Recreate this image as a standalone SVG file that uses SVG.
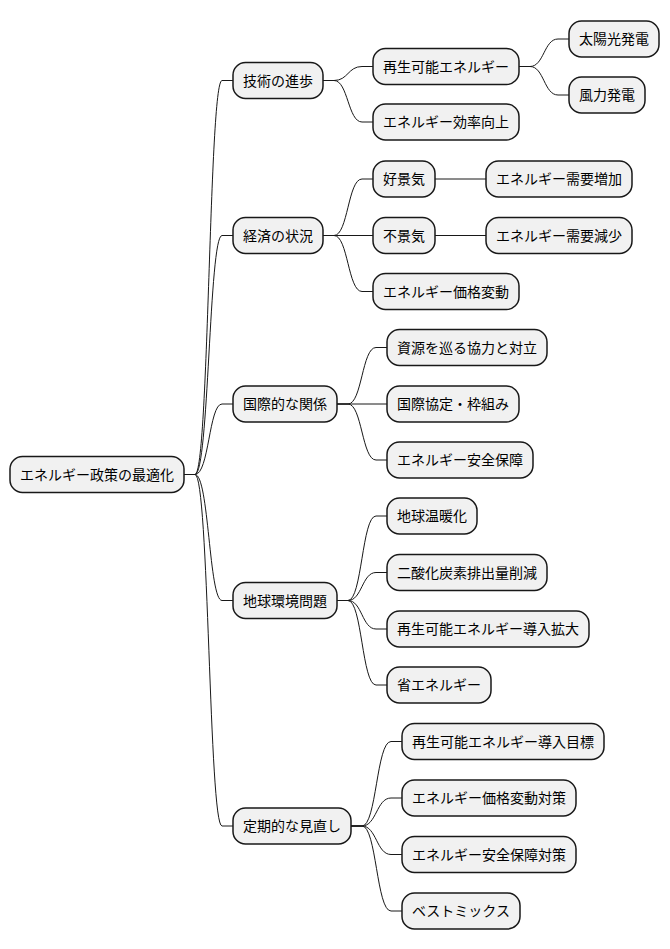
<svg xmlns="http://www.w3.org/2000/svg" width="670" height="949" viewBox="0 0 670 949">
<style>
.n rect{fill:#F1F1F1;stroke:#181818;stroke-width:1.5}
.n text{font-family:"Noto Sans CJK JP","Noto Sans",sans-serif;font-size:14px;fill:#000;text-anchor:middle}
#edges path{fill:none;stroke:#181818;stroke-width:1}
</style>
<rect width="670" height="949" fill="#FFFFFF"/>
<g id="edges">
<!-- root -> level1 -->
<path d="M184 474.5 H195 C209 474.5 209 80.5 222 80.5 H233"/>
<path d="M184 474.5 H195 C209 474.5 209 235.5 222 235.5 H233"/>
<path d="M184 474.5 H195 C209 474.5 209 404 222 404 H233"/>
<path d="M184 474.5 H195 C209 474.5 209 600.5 222 600.5 H233"/>
<path d="M184 474.5 H195 C209 474.5 209 826 222 826 H233"/>
<!-- 技術 -->
<path d="M323 80.5 H334 C348 80.5 348 66.5 362 66.5 H373"/>
<path d="M323 80.5 H334 C348 80.5 348 122 362 122 H373"/>
<path d="M519 66.5 H530 C544 66.5 544 39 558 39 H569"/>
<path d="M519 66.5 H530 C544 66.5 544 95 558 95 H569"/>
<!-- 経済 -->
<path d="M323 235.5 H334 C348 235.5 348 179 362 179 H373"/>
<path d="M323 235.5 H373"/>
<path d="M323 235.5 H334 C348 235.5 348 291.5 362 291.5 H373"/>
<path d="M435 179 H486"/>
<path d="M435 235.5 H486"/>
<!-- 国際 -->
<path d="M337 404 H348 C362 404 362 347.5 376 347.5 H387"/>
<path d="M337 404 H387"/>
<path d="M337 404 H348 C362 404 362 460 376 460 H387"/>
<!-- 地球 -->
<path d="M337 600.5 H348 C362 600.5 362 516 376 516 H387"/>
<path d="M337 600.5 H348 C362 600.5 362 572.5 376 572.5 H387"/>
<path d="M337 600.5 H348 C362 600.5 362 629 376 629 H387"/>
<path d="M337 600.5 H348 C362 600.5 362 685 376 685 H387"/>
<!-- 定期 -->
<path d="M351 826 H362 C376.5 826 376.5 741.5 391 741.5 H402"/>
<path d="M351 826 H362 C376.5 826 376.5 798 391 798 H402"/>
<path d="M351 826 H362 C376.5 826 376.5 854.5 391 854.5 H402"/>
<path d="M351 826 H362 C376.5 826 376.5 911 391 911 H402"/>
</g>
<g id="root" class="n"><rect x="10" y="456.5" width="174" height="36" rx="12.5"/><text x="97" y="479.5">エネルギー政策の最適化</text></g>
<g id="gijutsu" class="n"><rect x="233" y="62.5" width="90" height="36" rx="12.5"/><text x="278" y="85.5">技術の進歩</text></g>
<g id="saisei" class="n"><rect x="373" y="48.5" width="146" height="36" rx="12.5"/><text x="446" y="71.5">再生可能エネルギー</text></g>
<g id="taiyo" class="n"><rect x="569" y="21" width="90" height="36" rx="12.5"/><text x="614" y="44">太陽光発電</text></g>
<g id="furyoku" class="n"><rect x="569" y="77" width="76" height="36" rx="12.5"/><text x="607" y="100">風力発電</text></g>
<g id="koritsu" class="n"><rect x="373" y="104" width="146" height="36" rx="12.5"/><text x="446" y="127">エネルギー効率向上</text></g>
<g id="keizai" class="n"><rect x="233" y="217.5" width="90" height="36" rx="12.5"/><text x="278" y="240.5">経済の状況</text></g>
<g id="kokeiki" class="n"><rect x="373" y="161" width="62" height="36" rx="12.5"/><text x="404" y="184">好景気</text></g>
<g id="zoka" class="n"><rect x="486" y="161" width="146" height="36" rx="12.5"/><text x="559" y="184">エネルギー需要増加</text></g>
<g id="fukeiki" class="n"><rect x="373" y="217.5" width="62" height="36" rx="12.5"/><text x="404" y="240.5">不景気</text></g>
<g id="gensho" class="n"><rect x="486" y="217.5" width="146" height="36" rx="12.5"/><text x="559" y="240.5">エネルギー需要減少</text></g>
<g id="kakaku" class="n"><rect x="373" y="273.5" width="146" height="36" rx="12.5"/><text x="446" y="296.5">エネルギー価格変動</text></g>
<g id="kokusai" class="n"><rect x="233" y="386" width="104" height="36" rx="12.5"/><text x="285" y="409">国際的な関係</text></g>
<g id="shigen" class="n"><rect x="387" y="329.5" width="160" height="36" rx="12.5"/><text x="467" y="352.5">資源を巡る協力と対立</text></g>
<g id="kyotei" class="n"><rect x="387" y="386" width="132" height="36" rx="12.5"/><text x="453" y="409">国際協定・枠組み</text></g>
<g id="anzen" class="n"><rect x="387" y="442" width="146" height="36" rx="12.5"/><text x="460" y="465">エネルギー安全保障</text></g>
<g id="chikyu" class="n"><rect x="233" y="582.5" width="104" height="36" rx="12.5"/><text x="285" y="605.5">地球環境問題</text></g>
<g id="ondanka" class="n"><rect x="387" y="498" width="90" height="36" rx="12.5"/><text x="432" y="521">地球温暖化</text></g>
<g id="co2" class="n"><rect x="387" y="554.5" width="160" height="36" rx="12.5"/><text x="467" y="577.5">二酸化炭素排出量削減</text></g>
<g id="kakudai" class="n"><rect x="387" y="611" width="202" height="36" rx="12.5"/><text x="488" y="634">再生可能エネルギー導入拡大</text></g>
<g id="shoene" class="n"><rect x="387" y="667" width="104" height="36" rx="12.5"/><text x="439" y="690">省エネルギー</text></g>
<g id="teiki" class="n"><rect x="233" y="808" width="118" height="36" rx="12.5"/><text x="292" y="831">定期的な見直し</text></g>
<g id="mokuhyo" class="n"><rect x="402" y="723.5" width="202" height="36" rx="12.5"/><text x="503" y="746.5">再生可能エネルギー導入目標</text></g>
<g id="kakakutaisaku" class="n"><rect x="402" y="780" width="174" height="36" rx="12.5"/><text x="489" y="803">エネルギー価格変動対策</text></g>
<g id="anzentaisaku" class="n"><rect x="402" y="836.5" width="174" height="36" rx="12.5"/><text x="489" y="859.5">エネルギー安全保障対策</text></g>
<g id="bestmix" class="n"><rect x="402" y="893" width="118" height="36" rx="12.5"/><text x="461" y="916">ベストミックス</text></g>
</svg>
